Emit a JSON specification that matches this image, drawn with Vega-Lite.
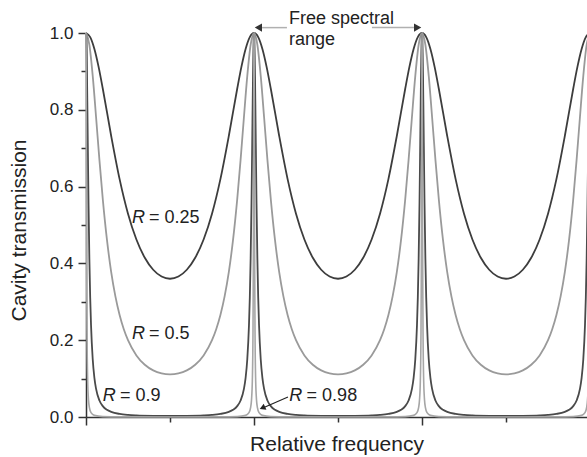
{
  "$schema": "https://vega.github.io/schema/vega-lite/v6.json",
  "width": 501,
  "height": 384,
  "autosize": {"type": "none"},
  "padding": {"left": 86, "top": 33, "right": 0, "bottom": 40},
  "config": {"view": {"stroke": null}, "font": "Liberation Sans"},
  "encoding": {
    "x": {"field": "x", "type": "quantitative", "scale": {"domain": [0, 2.982], "nice": false, "zero": false},
      "axis": {"values": [0, 0.5, 1, 1.5, 2, 2.5], "labels": false, "grid": false, "title": "Relative frequency",
        "titleFontSize": 21, "titleFontWeight": "normal", "titleColor": "#222", "titlePadding": 8,
        "domainColor": "#333", "domainWidth": 1.5, "tickColor": "#333", "tickWidth": 1.5,
        "tickSize": {"condition": {"test": "datum.value % 1 === 0", "value": 8}, "value": 5}}},
    "y": {"field": "T", "type": "quantitative", "scale": {"domain": [0, 1], "nice": false},
      "axis": {"values": [0, 0.1, 0.2, 0.3, 0.4, 0.5, 0.6, 0.7, 0.8, 0.9, 1.0], "grid": false,
        "labelExpr": "round(datum.value*10) % 2 === 0 ? format(datum.value, '.1f') : ''",
        "labelFontSize": 17, "labelColor": "#222", "labelPadding": 5,
        "title": "Cavity transmission", "titleFontSize": 21, "titleFontWeight": "normal", "titleColor": "#222", "titlePadding": 20, "titleY": 197,
        "domainColor": "#333", "domainWidth": 1.5, "tickColor": "#333", "tickWidth": 1.5,
        "tickSize": {"condition": {"test": "round(datum.value*10) % 2 === 0", "value": 8}, "value": 5}}}
  },
  "layer": [
    {
      "data": {"values": [
        {"x":0,"T":1},{"x":0.025,"T":0.9892},{"x":0.05,"T":0.9583},{"x":0.075,"T":0.9117},{"x":0.1,"T":0.8549},{"x":0.15,"T":0.7318},{"x":0.2,"T":0.6195},{"x":0.25,"T":0.5294},{"x":0.3,"T":0.4622},{"x":0.35,"T":0.4147},{"x":0.4,"T":0.3834},{"x":0.45,"T":0.3657},{"x":0.5,"T":0.36},{"x":0.55,"T":0.3657},{"x":0.6,"T":0.3834},{"x":0.65,"T":0.4147},{"x":0.7,"T":0.4622},{"x":0.75,"T":0.5294},{"x":0.8,"T":0.6195},{"x":0.85,"T":0.7318},{"x":0.9,"T":0.8549},{"x":0.925,"T":0.9117},{"x":0.95,"T":0.9583},{"x":0.975,"T":0.9892},
        {"x":1,"T":1},{"x":1.025,"T":0.9892},{"x":1.05,"T":0.9583},{"x":1.075,"T":0.9117},{"x":1.1,"T":0.8549},{"x":1.15,"T":0.7318},{"x":1.2,"T":0.6195},{"x":1.25,"T":0.5294},{"x":1.3,"T":0.4622},{"x":1.35,"T":0.4147},{"x":1.4,"T":0.3834},{"x":1.45,"T":0.3657},{"x":1.5,"T":0.36},{"x":1.55,"T":0.3657},{"x":1.6,"T":0.3834},{"x":1.65,"T":0.4147},{"x":1.7,"T":0.4622},{"x":1.75,"T":0.5294},{"x":1.8,"T":0.6195},{"x":1.85,"T":0.7318},{"x":1.9,"T":0.8549},{"x":1.925,"T":0.9117},{"x":1.95,"T":0.9583},{"x":1.975,"T":0.9892},
        {"x":2,"T":1},{"x":2.025,"T":0.9892},{"x":2.05,"T":0.9583},{"x":2.075,"T":0.9117},{"x":2.1,"T":0.8549},{"x":2.15,"T":0.7318},{"x":2.2,"T":0.6195},{"x":2.25,"T":0.5294},{"x":2.3,"T":0.4622},{"x":2.35,"T":0.4147},{"x":2.4,"T":0.3834},{"x":2.45,"T":0.3657},{"x":2.5,"T":0.36},{"x":2.55,"T":0.3657},{"x":2.6,"T":0.3834},{"x":2.65,"T":0.4147},{"x":2.7,"T":0.4622},{"x":2.75,"T":0.5294},{"x":2.8,"T":0.6195},{"x":2.85,"T":0.7318},{"x":2.9,"T":0.8549},{"x":2.925,"T":0.9117},{"x":2.95,"T":0.9583},{"x":2.975,"T":0.9892},{"x":3,"T":1}
      ]},
      "mark": {"type": "line", "stroke": "#3d3d3d", "strokeWidth": 1.8, "interpolate": "monotone"}
    },
    {
      "data": {"values": [
        {"x":0,"T":1},{"x":0.02,"T":0.9694},{"x":0.04,"T":0.8884},{"x":0.06,"T":0.7807},{"x":0.08,"T":0.669},{"x":0.1,"T":0.5669},{"x":0.125,"T":0.4605},{"x":0.15,"T":0.3775},{"x":0.175,"T":0.3141},{"x":0.2,"T":0.2657},{"x":0.225,"T":0.2286},{"x":0.25,"T":0.2},{"x":0.3,"T":0.1604},{"x":0.35,"T":0.136},{"x":0.4,"T":0.1214},{"x":0.45,"T":0.1136},{"x":0.5,"T":0.1111},{"x":0.55,"T":0.1136},{"x":0.6,"T":0.1214},{"x":0.65,"T":0.136},{"x":0.7,"T":0.1604},{"x":0.75,"T":0.2},{"x":0.775,"T":0.2286},{"x":0.8,"T":0.2657},{"x":0.825,"T":0.3141},{"x":0.85,"T":0.3775},{"x":0.875,"T":0.4605},{"x":0.9,"T":0.5669},{"x":0.92,"T":0.669},{"x":0.94,"T":0.7807},{"x":0.96,"T":0.8884},{"x":0.98,"T":0.9694},
        {"x":1,"T":1},{"x":1.02,"T":0.9694},{"x":1.04,"T":0.8884},{"x":1.06,"T":0.7807},{"x":1.08,"T":0.669},{"x":1.1,"T":0.5669},{"x":1.125,"T":0.4605},{"x":1.15,"T":0.3775},{"x":1.175,"T":0.3141},{"x":1.2,"T":0.2657},{"x":1.225,"T":0.2286},{"x":1.25,"T":0.2},{"x":1.3,"T":0.1604},{"x":1.35,"T":0.136},{"x":1.4,"T":0.1214},{"x":1.45,"T":0.1136},{"x":1.5,"T":0.1111},{"x":1.55,"T":0.1136},{"x":1.6,"T":0.1214},{"x":1.65,"T":0.136},{"x":1.7,"T":0.1604},{"x":1.75,"T":0.2},{"x":1.775,"T":0.2286},{"x":1.8,"T":0.2657},{"x":1.825,"T":0.3141},{"x":1.85,"T":0.3775},{"x":1.875,"T":0.4605},{"x":1.9,"T":0.5669},{"x":1.92,"T":0.669},{"x":1.94,"T":0.7807},{"x":1.96,"T":0.8884},{"x":1.98,"T":0.9694},
        {"x":2,"T":1},{"x":2.02,"T":0.9694},{"x":2.04,"T":0.8884},{"x":2.06,"T":0.7807},{"x":2.08,"T":0.669},{"x":2.1,"T":0.5669},{"x":2.125,"T":0.4605},{"x":2.15,"T":0.3775},{"x":2.175,"T":0.3141},{"x":2.2,"T":0.2657},{"x":2.225,"T":0.2286},{"x":2.25,"T":0.2},{"x":2.3,"T":0.1604},{"x":2.35,"T":0.136},{"x":2.4,"T":0.1214},{"x":2.45,"T":0.1136},{"x":2.5,"T":0.1111},{"x":2.55,"T":0.1136},{"x":2.6,"T":0.1214},{"x":2.65,"T":0.136},{"x":2.7,"T":0.1604},{"x":2.75,"T":0.2},{"x":2.775,"T":0.2286},{"x":2.8,"T":0.2657},{"x":2.825,"T":0.3141},{"x":2.85,"T":0.3775},{"x":2.875,"T":0.4605},{"x":2.9,"T":0.5669},{"x":2.92,"T":0.669},{"x":2.94,"T":0.7807},{"x":2.96,"T":0.8884},{"x":2.98,"T":0.9694},{"x":3,"T":1}
      ]},
      "mark": {"type": "line", "stroke": "#9a9a9a", "strokeWidth": 1.8, "interpolate": "monotone"}
    },
    {
      "data": {"values": [
        {"x":0,"T":1},{"x":0.002,"T":0.986},{"x":0.004,"T":0.9462},{"x":0.006,"T":0.8866},{"x":0.008,"T":0.8148},{"x":0.01,"T":0.7379},{"x":0.0125,"T":0.6431},{"x":0.015,"T":0.5559},{"x":0.02,"T":0.4133},{"x":0.025,"T":0.3109},{"x":0.03,"T":0.2388},{"x":0.04,"T":0.1503},{"x":0.05,"T":0.1019},{"x":0.06,"T":0.0733},{"x":0.08,"T":0.043},{"x":0.1,"T":0.0283},{"x":0.125,"T":0.0186},{"x":0.15,"T":0.0133},{"x":0.2,"T":0.008},{"x":0.25,"T":0.0055},{"x":0.3,"T":0.0042},{"x":0.4,"T":0.0031},{"x":0.5,"T":0.0028},{"x":0.6,"T":0.0031},{"x":0.7,"T":0.0042},{"x":0.75,"T":0.0055},{"x":0.8,"T":0.008},{"x":0.85,"T":0.0133},{"x":0.875,"T":0.0186},{"x":0.9,"T":0.0283},{"x":0.92,"T":0.043},{"x":0.94,"T":0.0733},{"x":0.95,"T":0.1019},{"x":0.96,"T":0.1503},{"x":0.97,"T":0.2388},{"x":0.975,"T":0.3109},{"x":0.98,"T":0.4133},{"x":0.985,"T":0.5559},{"x":0.9875,"T":0.6431},{"x":0.99,"T":0.7379},{"x":0.992,"T":0.8148},{"x":0.994,"T":0.8866},{"x":0.996,"T":0.9462},{"x":0.998,"T":0.986},
        {"x":1,"T":1},{"x":1.002,"T":0.986},{"x":1.004,"T":0.9462},{"x":1.006,"T":0.8866},{"x":1.008,"T":0.8148},{"x":1.01,"T":0.7379},{"x":1.0125,"T":0.6431},{"x":1.015,"T":0.5559},{"x":1.02,"T":0.4133},{"x":1.025,"T":0.3109},{"x":1.03,"T":0.2388},{"x":1.04,"T":0.1503},{"x":1.05,"T":0.1019},{"x":1.06,"T":0.0733},{"x":1.08,"T":0.043},{"x":1.1,"T":0.0283},{"x":1.125,"T":0.0186},{"x":1.15,"T":0.0133},{"x":1.2,"T":0.008},{"x":1.25,"T":0.0055},{"x":1.3,"T":0.0042},{"x":1.4,"T":0.0031},{"x":1.5,"T":0.0028},{"x":1.6,"T":0.0031},{"x":1.7,"T":0.0042},{"x":1.75,"T":0.0055},{"x":1.8,"T":0.008},{"x":1.85,"T":0.0133},{"x":1.875,"T":0.0186},{"x":1.9,"T":0.0283},{"x":1.92,"T":0.043},{"x":1.94,"T":0.0733},{"x":1.95,"T":0.1019},{"x":1.96,"T":0.1503},{"x":1.97,"T":0.2388},{"x":1.975,"T":0.3109},{"x":1.98,"T":0.4133},{"x":1.985,"T":0.5559},{"x":1.9875,"T":0.6431},{"x":1.99,"T":0.7379},{"x":1.992,"T":0.8148},{"x":1.994,"T":0.8866},{"x":1.996,"T":0.9462},{"x":1.998,"T":0.986},
        {"x":2,"T":1},{"x":2.002,"T":0.986},{"x":2.004,"T":0.9462},{"x":2.006,"T":0.8866},{"x":2.008,"T":0.8148},{"x":2.01,"T":0.7379},{"x":2.0125,"T":0.6431},{"x":2.015,"T":0.5559},{"x":2.02,"T":0.4133},{"x":2.025,"T":0.3109},{"x":2.03,"T":0.2388},{"x":2.04,"T":0.1503},{"x":2.05,"T":0.1019},{"x":2.06,"T":0.0733},{"x":2.08,"T":0.043},{"x":2.1,"T":0.0283},{"x":2.125,"T":0.0186},{"x":2.15,"T":0.0133},{"x":2.2,"T":0.008},{"x":2.25,"T":0.0055},{"x":2.3,"T":0.0042},{"x":2.4,"T":0.0031},{"x":2.5,"T":0.0028},{"x":2.6,"T":0.0031},{"x":2.7,"T":0.0042},{"x":2.75,"T":0.0055},{"x":2.8,"T":0.008},{"x":2.85,"T":0.0133},{"x":2.875,"T":0.0186},{"x":2.9,"T":0.0283},{"x":2.92,"T":0.043},{"x":2.94,"T":0.0733},{"x":2.95,"T":0.1019},{"x":2.96,"T":0.1503},{"x":2.97,"T":0.2388},{"x":2.975,"T":0.3109},{"x":2.98,"T":0.4133},{"x":2.985,"T":0.5559},{"x":2.9875,"T":0.6431},{"x":2.99,"T":0.7379},{"x":2.992,"T":0.8148},{"x":2.994,"T":0.8866},{"x":2.996,"T":0.9462},{"x":2.998,"T":0.986},{"x":3,"T":1}
      ]},
      "mark": {"type": "line", "stroke": "#4a4a4a", "strokeWidth": 1.8, "interpolate": "monotone"}
    },
    {
      "data": {"values": [
        {"x":0,"T":1},{"x":0.0005,"T":0.9764},{"x":0.001,"T":0.9118},{"x":0.0015,"T":0.8213},{"x":0.002,"T":0.721},{"x":0.003,"T":0.5346},{"x":0.004,"T":0.3926},{"x":0.006,"T":0.2231},{"x":0.01,"T":0.0937},{"x":0.015,"T":0.044},{"x":0.02,"T":0.0252},{"x":0.03,"T":0.0114},{"x":0.05,"T":0.0042},{"x":0.1,"T":0.0011},{"x":0.2,"T":0.0003},{"x":0.5,"T":0.0001},{"x":0.8,"T":0.0003},{"x":0.9,"T":0.0011},{"x":0.95,"T":0.0042},{"x":0.97,"T":0.0114},{"x":0.98,"T":0.0252},{"x":0.985,"T":0.044},{"x":0.99,"T":0.0937},{"x":0.994,"T":0.2231},{"x":0.996,"T":0.3926},{"x":0.997,"T":0.5346},{"x":0.998,"T":0.721},{"x":0.9985,"T":0.8213},{"x":0.999,"T":0.9118},{"x":0.9995,"T":0.9764},
        {"x":1,"T":1},{"x":1.0005,"T":0.9764},{"x":1.001,"T":0.9118},{"x":1.0015,"T":0.8213},{"x":1.002,"T":0.721},{"x":1.003,"T":0.5346},{"x":1.004,"T":0.3926},{"x":1.006,"T":0.2231},{"x":1.01,"T":0.0937},{"x":1.015,"T":0.044},{"x":1.02,"T":0.0252},{"x":1.03,"T":0.0114},{"x":1.05,"T":0.0042},{"x":1.1,"T":0.0011},{"x":1.2,"T":0.0003},{"x":1.5,"T":0.0001},{"x":1.8,"T":0.0003},{"x":1.9,"T":0.0011},{"x":1.95,"T":0.0042},{"x":1.97,"T":0.0114},{"x":1.98,"T":0.0252},{"x":1.985,"T":0.044},{"x":1.99,"T":0.0937},{"x":1.994,"T":0.2231},{"x":1.996,"T":0.3926},{"x":1.997,"T":0.5346},{"x":1.998,"T":0.721},{"x":1.9985,"T":0.8213},{"x":1.999,"T":0.9118},{"x":1.9995,"T":0.9764},
        {"x":2,"T":1},{"x":2.0005,"T":0.9764},{"x":2.001,"T":0.9118},{"x":2.0015,"T":0.8213},{"x":2.002,"T":0.721},{"x":2.003,"T":0.5346},{"x":2.004,"T":0.3926},{"x":2.006,"T":0.2231},{"x":2.01,"T":0.0937},{"x":2.015,"T":0.044},{"x":2.02,"T":0.0252},{"x":2.03,"T":0.0114},{"x":2.05,"T":0.0042},{"x":2.1,"T":0.0011},{"x":2.2,"T":0.0003},{"x":2.5,"T":0.0001},{"x":2.8,"T":0.0003},{"x":2.9,"T":0.0011},{"x":2.95,"T":0.0042},{"x":2.97,"T":0.0114},{"x":2.98,"T":0.0252},{"x":2.985,"T":0.044},{"x":2.99,"T":0.0937},{"x":2.994,"T":0.2231},{"x":2.996,"T":0.3926},{"x":2.997,"T":0.5346},{"x":2.998,"T":0.721},{"x":2.9985,"T":0.8213},{"x":2.999,"T":0.9118},{"x":2.9995,"T":0.9764},{"x":3,"T":1}
      ]},
      "mark": {"type": "line", "stroke": "#a6a6a6", "strokeWidth": 1.6, "interpolate": "monotone"}
    },
    {
      "data": {"values": [
        {"x": 1.048, "x2": 1.196, "T": 1.014, "T2": 1.014},
        {"x": 1.702, "x2": 1.952, "T": 1.014, "T2": 1.014}
      ]},
      "mark": {"type": "rule", "stroke": "#b0b0b0", "strokeWidth": 1.5},
      "encoding": {"x2": {"field": "x2"}, "y2": {"field": "T2"}}
    },
    {
      "data": {"values": [{"x": 1.202, "x2": 1.052, "T": 0.052, "T2": 0.0234}]},
      "mark": {"type": "rule", "stroke": "#222", "strokeWidth": 1.2},
      "encoding": {"x2": {"field": "x2"}, "y2": {"field": "T2"}}
    },
    {
      "data": {"values": [{"x": 1.026, "T": 1.014}]},
      "mark": {"type": "point", "shape": "triangle-left", "filled": true, "size": 70, "color": "#333", "opacity": 1}
    },
    {
      "data": {"values": [{"x": 1.974, "T": 1.014}]},
      "mark": {"type": "point", "shape": "triangle-right", "filled": true, "size": 70, "color": "#333", "opacity": 1}
    },
    {
      "data": {"values": [{"x": 1.05, "T": 0.0236}]},
      "mark": {"type": "point", "shape": "triangle-left", "filled": true, "size": 45, "angle": -24, "color": "#222", "opacity": 1}
    },
    {
      "data": {"values": [
        {"x": 0.274, "T": 0.505, "label": "R"},
        {"x": 0.274, "T": 0.203, "label": "R"},
        {"x": 0.099, "T": 0.042, "label": "R"},
        {"x": 1.21, "T": 0.042, "label": "R"}
      ]},
      "mark": {"type": "text", "align": "left", "baseline": "alphabetic", "fontSize": 18, "fontStyle": "italic", "color": "#222"},
      "encoding": {"text": {"field": "label"}}
    },
    {
      "data": {"values": [
        {"x": 0.375, "T": 0.505, "label": "= 0.25"},
        {"x": 0.375, "T": 0.203, "label": "= 0.5"},
        {"x": 0.202, "T": 0.042, "label": "= 0.9"},
        {"x": 1.313, "T": 0.042, "label": "= 0.98"},
        {"x": 1.208, "T": 1.0234, "label": "Free spectral"},
        {"x": 1.208, "T": 0.969, "label": "range"}
      ]},
      "mark": {"type": "text", "align": "left", "baseline": "alphabetic", "fontSize": 18, "color": "#222"},
      "encoding": {"text": {"field": "label"}}
    }
  ]
}
